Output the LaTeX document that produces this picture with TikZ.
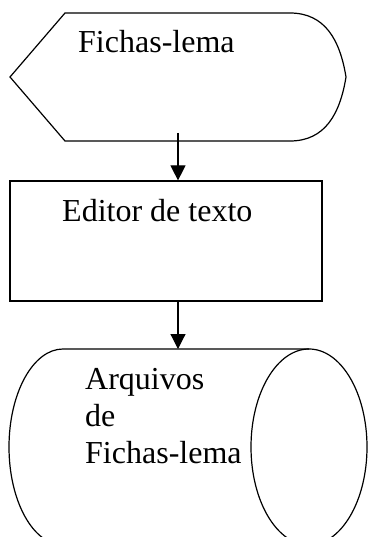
\documentclass[tikz,border=0pt]{standalone}
\usepackage{fontspec}
\setmainfont{Liberation Serif}
\usetikzlibrary{arrows.meta}
\tikzset{
  shapeline/.style={line width=1.2pt, draw=black},
  flowarrow/.style={line width=1.2pt, -{Triangle[length=15pt,width=15pt]}},
  label/.style={inner sep=0pt, font=\fontsize{32}{37}\selectfont, align=left}
}
\begin{document}
\begin{tikzpicture}[x=1pt,y=-1pt]
\useasboundingbox (0,0) rectangle (368,537);
\clip (0,0) rectangle (368,537);
% display shape (Fichas-lema)
\draw[shapeline] (65,13) -- (290,13) .. controls (325,13) and (340,40) .. (346,77)
  .. controls (340,114) and (325,141) .. (290,141) -- (65,141) -- (10,77) -- cycle;
\node[label, anchor=base west] (fichas) at (78,53) {Fichas-lema};
\coordinate (fichasout) at (178,133);
% process box
\node[shapeline, draw, minimum width=312pt, minimum height=120pt, inner sep=0pt] (editor) at (166,241) {};
\node[label, anchor=base west] (editortxt) at (62,222) {Editor de texto};
% cylinder (stored data)
\draw[shapeline] (309,349) -- (63,349) .. controls (33.2,349) and (9,392.9) .. (9,447)
  .. controls (9,501.1) and (33.2,545) .. (63,545) -- (309,545);
\draw[shapeline] (309,447) ellipse [x radius=58, y radius=98];
\coordinate (cyltop) at (178,349);
\node[label, anchor=north west] (arquivos) at (85,367.8) {Arquivos\\de\\Fichas-lema};
% connectors
\draw[flowarrow] (fichasout) -- (editor.north -| fichasout);
\draw[flowarrow] (editor.south -| fichasout) -- (cyltop);
\end{tikzpicture}
\end{document}
